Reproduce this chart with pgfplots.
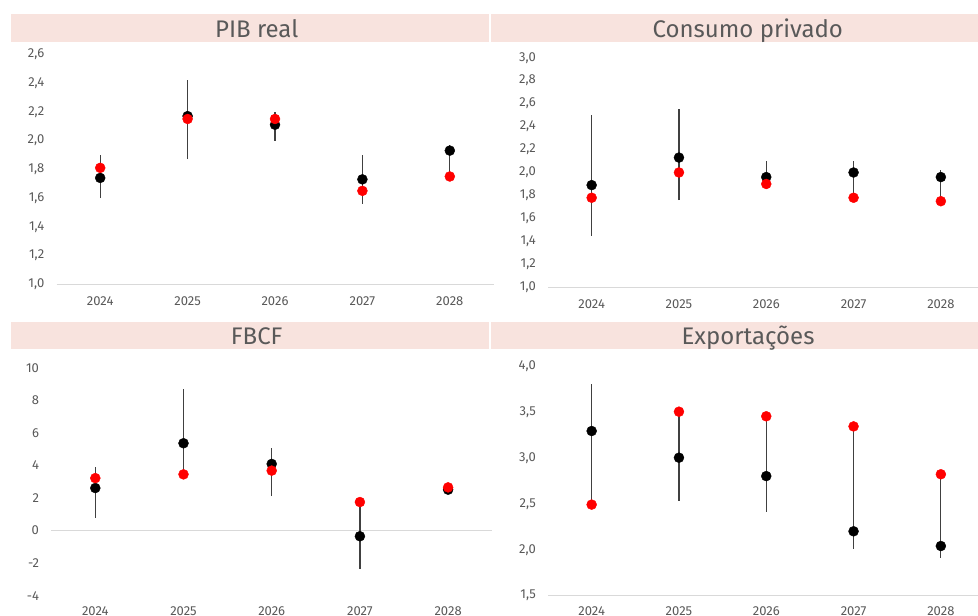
\documentclass[border=0pt]{standalone}
\usepackage{fontspec}
\setmainfont{Fira Sans}
\usepackage{pgfplots}
\pgfplotsset{compat=1.18}
\usepackage{pgfplotstable}
\definecolor{band}{HTML}{F8E3DE}
\definecolor{txt}{HTML}{595959}
\definecolor{axl}{HTML}{D9D9D9}

\pgfplotstableread{
x lo hi b r
0 1.60 1.90 1.74 1.81
1 1.87 2.42 2.17 2.15
2 2.00 2.20 2.11 2.15
3 1.56 1.90 1.73 1.65
4 1.75 1.97 1.93 1.75
}\pib
\pgfplotstableread{
x lo hi b r
0 1.45 2.50 1.89 1.78
1 1.76 2.55 2.13 2.00
2 1.90 2.10 1.96 1.90
3 1.78 2.10 2.00 1.78
4 1.75 2.02 1.96 1.75
}\cons
\pgfplotstableread{
x lo hi b r
0 0.80 3.92 2.61 3.22
1 3.45 8.69 5.36 3.45
2 2.11 5.09 4.09 3.68
3 -2.36 1.75 -0.35 1.75
4 2.51 2.65 2.51 2.65
}\fbcf
\pgfplotstableread{
x lo hi b r
0 2.49 3.80 3.29 2.49
1 2.53 3.50 3.00 3.50
2 2.41 3.45 2.80 3.45
3 2.01 3.34 2.20 3.34
4 1.91 2.82 2.04 2.82
}\expo

\pgfplotsset{
  panel/.style={
    scale only axis, xmin=-0.5, xmax=4.5,
    xtick={0,...,4}, xticklabels={2024,2025,2026,2027,2028},
    axis line style={draw=none}, major tick length=0pt, tick style={draw=none},
    ticklabel style={font=\fontsize{13bp}{15bp}\selectfont, text=txt},
    yticklabel style={anchor=east, inner sep=0pt, xshift=-12bp},
    xticklabel style={anchor=north, inner sep=0pt, yshift=-12bp},
    /pgf/number format/assume math mode=true,
    clip=false,
  },
  dec1/.style={yticklabel style={/pgf/number format/.cd, fixed, fixed zerofill, precision=1, use comma}},
  rng/.style={draw=none, mark=none, forget plot,
    error bars/.cd, y dir=plus, y explicit, error mark=none,
    error bar style={draw=black!75, line width=1.2bp, solid}},
  bdot/.style={only marks, mark=*, mark size=5bp, mark options={draw=black, fill=black}},
  rdot/.style={only marks, mark=*, mark size=5bp, mark options={draw=red, fill=red}},
}

\begin{document}
\begin{tikzpicture}[x=1bp,y=1bp]
% title bands
\fill[band] (11,574) rectangle (489,602);
\fill[band] (490.5,574) rectangle (978,602);
\fill[band] (11,266.7) rectangle (489,294);
\fill[band] (490.5,266.7) rectangle (978,294);
\node[anchor=base, text=txt, font=\fontsize{24bp}{28bp}\selectfont, inner sep=0pt] at (256.7,578.7) {PIB real};
\node[anchor=base, text=txt, font=\fontsize{24bp}{28bp}\selectfont, inner sep=0pt] at (747.8,578.7) {Consumo privado};
\node[anchor=base, text=txt, font=\fontsize{24bp}{28bp}\selectfont, inner sep=0pt] at (256.7,271) {FBCF};
\node[anchor=base, text=txt, font=\fontsize{24bp}{28bp}\selectfont, inner sep=0pt] at (748,271) {Exportações};

% PIB real
\begin{axis}[panel, dec1, at={(56.5bp,331.7bp)}, anchor=south west,
  width=437bp, height=230bp, ymin=1.0, ymax=2.6, ytick={1.0,1.2,...,2.61}]
\draw[axl, line width=1bp] (axis cs:-0.5,1.0) -- (axis cs:4.5,1.0);
\addplot[rng] table[x=x, y=lo, y error expr=\thisrow{hi}-\thisrow{lo}] {\pib};
\addplot[bdot] table[x=x, y=b] {\pib};
\addplot[rdot] table[x=x, y=r] {\pib};
\end{axis}

% Consumo privado
\begin{axis}[panel, dec1, at={(548bp,328.7bp)}, anchor=south west,
  width=436.5bp, height=229.6bp, ymin=1.0, ymax=3.0, ytick={1.0,1.2,...,3.01}]
\draw[axl, line width=1bp] (axis cs:-0.5,1.0) -- (axis cs:4.5,1.0);
\addplot[rng] table[x=x, y=lo, y error expr=\thisrow{hi}-\thisrow{lo}] {\cons};
\addplot[bdot] table[x=x, y=b] {\cons};
\addplot[rdot] table[x=x, y=r] {\cons};
\end{axis}

% FBCF
\begin{axis}[panel, at={(51.2bp,20.3bp)}, anchor=south west,
  width=441bp, height=228bp, ymin=-4, ymax=10, ytick={-4,-2,...,10},
  xticklabel style={yshift=1.3bp},
  yticklabel style={/pgf/number format/.cd, fixed, precision=0}]
\draw[axl, line width=1bp] (axis cs:-0.5,0) -- (axis cs:4.5,0);
\addplot[rng] table[x=x, y=lo, y error expr=\thisrow{hi}-\thisrow{lo}] {\fbcf};
\addplot[bdot] table[x=x, y=b] {\fbcf};
\addplot[rdot] table[x=x, y=r] {\fbcf};
\end{axis}

% Exportacoes
\begin{axis}[panel, dec1, at={(548bp,20.3bp)}, anchor=south west,
  width=436.5bp, height=230bp, ymin=1.5, ymax=4.0, ytick={1.5,2.0,...,4.01},
  xticklabel style={yshift=1.3bp}]
\draw[axl, line width=1bp] (axis cs:-0.5,1.5) -- (axis cs:4.5,1.5);
\addplot[rng] table[x=x, y=lo, y error expr=\thisrow{hi}-\thisrow{lo}] {\expo};
\addplot[bdot] table[x=x, y=b] {\expo};
\addplot[rdot] table[x=x, y=r] {\expo};
\end{axis}

\pgfresetboundingbox
\path[use as bounding box] (0,0) rectangle (978,616);
\end{tikzpicture}
\end{document}
